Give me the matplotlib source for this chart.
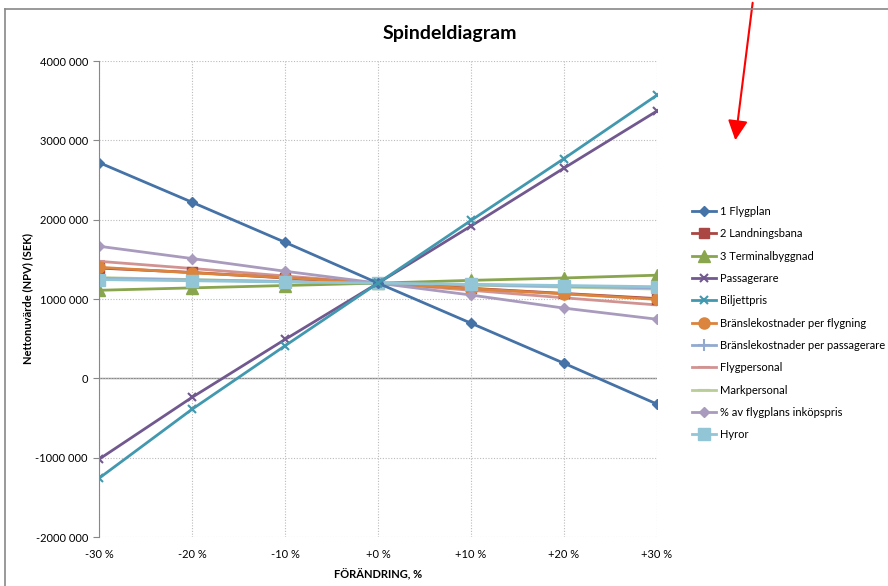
import matplotlib
matplotlib.use("Agg")
import matplotlib.pyplot as plt
from matplotlib.lines import Line2D
from matplotlib.ticker import FuncFormatter

plt.rcParams['font.family'] = ['Lato', 'DejaVu Sans']

x_labels = ['-30 %', '-20 %', '-10 %', '+0 %', '+10 %', '+20 %', '+30 %']
changes = [-30, -20, -10, 0, 10, 20, 30]

flygplan = [2720000, 2220000, 1715000, 1200000, 695000, 190000, -325000]
landningsbana = [1390000, 1335000, 1265000, 1200000, 1135000, 1070000, 1005000]
terminal = [1110000, 1140000, 1170000, 1200000, 1235000, 1265000, 1300000]
passagerare = [-1020000, -240000, 490000, 1200000, 1920000, 2650000, 3370000]
biljettpris = [-1260000, -390000, 410000, 1200000, 1990000, 2770000, 3570000]
bransle_flyg = [1400000, 1330000, 1270000, 1200000, 1130000, 1065000, 995000]
bransle_pass = [1260000, 1240000, 1220000, 1200000, 1180000, 1160000, 1140000]
flygpersonal = [1475000, 1385000, 1290000, 1200000, 1110000, 1015000, 925000]
markpersonal = [1270000, 1245000, 1220000, 1200000, 1175000, 1150000, 1125000]
inkopspris = [1665000, 1510000, 1350000, 1200000, 1050000, 885000, 745000]
hyror = [1245000, 1230000, 1215000, 1200000, 1185000, 1170000, 1155000]

series = [
    ('1 Flygplan', flygplan, '#4572A7', 'D', 5),
    ('2 Landningsbana', landningsbana, '#AA4643', 's', 7),
    ('3 Terminalbyggnad', terminal, '#89A54E', '^', 8),
    ('Passagerare', passagerare, '#71588F', 'x', 6),
    ('Biljettpris', biljettpris, '#4198AF', 'x', 6),
    ('Bränslekostnader per flygning', bransle_flyg, '#DB843D', 'o', 8),
    ('Bränslekostnader per passagerare', bransle_pass, '#93A9CF', '+', 8),
    ('Flygpersonal', flygpersonal, '#D19392', '_', 8),
    ('Markpersonal', markpersonal, '#B9CD96', '_', 8),
    ('% av flygplans inköpspris', inkopspris, '#A99BBD', 'D', 5),
    ('Hyror', hyror, '#92C5D5', 's', 9),
]

fig = plt.figure(figsize=(8.88, 5.86), dpi=100)
ax = fig.add_axes([99/888, 1-537/586, (657-99)/888, (537-61)/586])

draw_order = [7, 8, 6, 1, 5, 9, 2, 10, 0, 3, 4]
handles = {}
for i in draw_order:
    name, vals, col, mk, ms = series[i]
    mew = 1.5 if mk in ('x', '+', '_') else 1
    h, = ax.plot(changes, vals, color=col, marker=mk, markersize=ms, lw=2,
                 markeredgewidth=mew, markeredgecolor=col, label=name)
    handles[i] = h


def fmt(v, p):
    if v == 0:
        return '0'
    sign = '-' if v < 0 else ''
    return f"{sign}{abs(int(v)) // 1000} 000"


ax.set_xlim(-30, 30)
ax.set_ylim(-2000000, 4000000)
ax.set_xticks(changes)
ax.set_xticklabels(x_labels)
ax.set_yticks(range(-2000000, 4000001, 1000000))
ax.yaxis.set_major_formatter(FuncFormatter(fmt))
ax.grid(True, color='#BBBBBB', linestyle=(0, (1, 1.5)), lw=0.8)
for s in ['top', 'right', 'bottom']:
    ax.spines[s].set_visible(False)
ax.spines['left'].set_color('#888888')
ax.axhline(0, color='#888888', lw=1, zorder=1)
ax.tick_params(axis='y', length=4, color='#888888', labelsize=8, pad=4)
ax.tick_params(axis='x', length=0, labelsize=8, pad=9)
ax.set_xlabel('FÖRÄNDRING, %', fontsize=8, fontweight='bold', labelpad=6)
ax.set_ylabel('Nettonuvärde (NPV) (SEK)', fontsize=8, fontweight='bold')
ax.yaxis.set_label_coords((33 - 99) / 558, 0.5)
fig.text(450/888, 1-33/586, 'Spindeldiagram', ha='center', va='center',
         fontsize=14, fontweight='bold')

leg = fig.legend([handles[i] for i in range(len(series))], [s[0] for s in series],
                 loc='upper left', bbox_to_anchor=(682/888, 1-196/586), frameon=False,
                 fontsize=8, labelspacing=1.02, handlelength=2.2, handletextpad=0.3)

# outer frame lines
fig.add_artist(Line2D([5/888, 5/888], [0, 1-9/586], color='#888888', lw=1.2,
                      transform=fig.transFigure))
fig.add_artist(Line2D([5/888, 1], [1-9/586, 1-9/586], color='#888888', lw=1.2,
                      transform=fig.transFigure))
# red arrow annotation
fig.patches.append(matplotlib.patches.FancyArrowPatch(
    (753/888, 1.0), (735/888, 1-143/586), transform=fig.transFigure,
    arrowstyle='-|>,head_length=0.8,head_width=0.4', color='red', lw=1.5,
    mutation_scale=15))

fig.savefig('out.png', dpi=100)
